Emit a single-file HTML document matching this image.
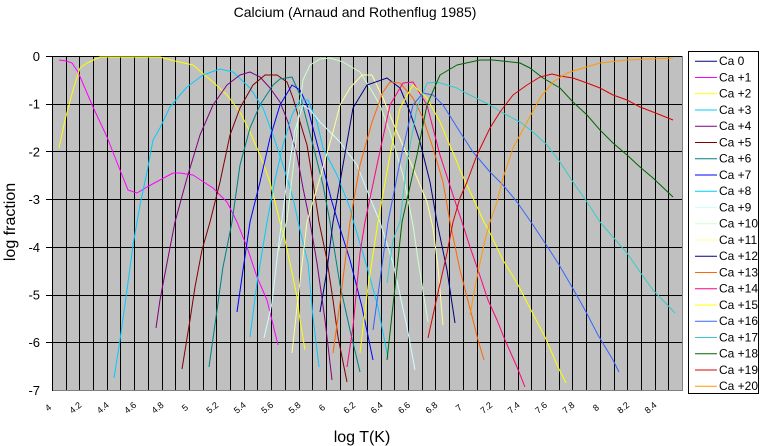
<!DOCTYPE html>
<html><head><meta charset="utf-8"><style>
html,body{margin:0;padding:0;background:#fff;}
svg{display:block;font-family:"Liberation Sans",sans-serif;}
</style></head><body>
<svg id="s" width="760" height="446" viewBox="0 0 760 446" xmlns="http://www.w3.org/2000/svg">
<rect x="0" y="0" width="760" height="446" fill="#fff"/>
<text x="355" y="17" font-size="14" text-anchor="middle">Calcium  (Arnaud and Rothenflug 1985)</text>
<rect x="52" y="56" width="630" height="334" fill="#c0c0c0"/>
<g id="grid" stroke="#000" stroke-width="1"></g>
<line x1="682.5" y1="56" x2="682.5" y2="390.5" stroke="#808080"/>
<line x1="52" y1="390.5" x2="683" y2="390.5" stroke="#808080"/>
<line x1="52.5" y1="56" x2="52.5" y2="391" stroke="#000"/>
<g id="ylab" font-size="13" text-anchor="end"></g>
<g id="xlab" font-size="9"></g>
<text transform="translate(15,222) rotate(-90)" font-size="16" text-anchor="middle">log fraction</text>
<text x="362" y="442" font-size="16" text-anchor="middle">log T(K)</text>
<g fill="none" stroke-width="1" stroke-linejoin="round">
<polyline stroke="#ff00ff" points="59,60 66,61 72,63 78,72 93,107 107,137 120,170 128,190 137,193 147,187 160,180 173,173 180,173 193,175 213,188 227,202 237,222 247,247 257,277 267,300 278,345"/>
<polyline stroke="#ffff00" points="59,148 65,120 73,90 80,68 87,63 100,57 160,57 175,61 193,65 213,82 227,95 240,112 250,132 260,155 270,182 280,222 285,240 293,277 297,297 300,320 305,350"/>
<polyline stroke="#00ccff" points="114,378 120,340 127,290 133,245 140,205 147,172 153,140 160,128 170,107 180,95 187,87 203,75 220,69 233,72 250,88 263,108 273,135 283,165 293,198 300,230 308,263 313,317 319,367"/>
<polyline stroke="#800080" points="156,328 160,300 167,263 175,222 187,178 200,135 213,105 227,85 240,75 250,72 260,77 270,88 280,102 288,122 297,155 303,188 310,222 317,263 325,320 332,380"/>
<polyline stroke="#800000" points="182,369 190,320 195,287 202,250 210,222 220,182 230,135 240,108 253,85 265,75 277,75 287,82 293,98 300,122 307,145 313,182 319,222 327,260 333,300 338,337 347,382"/>
<polyline stroke="#008080" points="209,367 217,310 223,267 232,222 240,165 250,128 260,105 273,85 280,79 292,77 300,95 307,122 313,145 323,185 330,222 340,285 350,330 360,372"/>
<polyline stroke="#0000ff" points="237,312 243,270 250,222 260,182 270,138 280,105 292,85 300,90 307,105 320,155 332,202 338,222 350,260 362,307 373,360"/>
<polyline stroke="#00ccff" points="250,337 257,283 267,222 275,180 283,145 292,115 300,100 308,100 317,122 323,148 337,175 350,208 353,220 367,267 378,307 388,358"/>
<polyline stroke="#ccffff" points="264,338 272,303 278,250 287,180 295,130 303,105 310,110 320,122 340,142 357,165 370,198 380,222 393,263 407,327 415,370"/>
<polyline stroke="#ccffcc" points="278,252 287,220 293,170 298,120 303,80 310,65 320,59 330,58 343,62 360,72 370,88 380,105 390,132 403,175 413,225 418,260 428,322"/>
<polyline stroke="#ffff99" points="292,353 297,307 307,222 320,178 333,132 340,105 350,88 362,75 372,75 383,98 397,132 413,168 427,202 433,228 438,267 443,325"/>
<polyline stroke="#000080" points="320,312 327,270 333,222 343,165 353,108 367,85 387,78 400,88 410,112 420,142 430,182 437,222 447,270 455,323"/>
<polyline stroke="#ff6600" points="333,353 340,303 350,222 360,165 372,122 383,92 390,82 400,83 413,98 423,118 433,148 443,182 450,222 460,270 467,297 473,320 478,340 484,360"/>
<polyline stroke="#ff0080" points="347,367 353,327 360,253 365,222 377,165 390,105 403,83 413,82 427,105 440,155 453,195 462,222 470,247 478,270 488,300 497,320 505,340 517,367 525,387"/>
<polyline stroke="#ffff00" points="360,353 368,287 378,222 390,155 400,108 413,85 427,98 440,122 457,162 460,170 473,198 484,222 490,233 503,260 517,283 532,312 545,337 558,367 566,383"/>
<polyline stroke="#3366ff" points="373,330 380,280 388,222 400,162 413,105 423,93 433,95 443,105 460,132 473,152 490,172 503,185 517,202 531,222 545,243 558,263 572,287 585,310 598,335 613,360 619,372"/>
<polyline stroke="#33cccc" points="387,283 393,240 400,222 407,162 417,108 427,83 437,82 457,88 460,90 490,105 503,113 520,122 533,132 547,145 560,162 573,182 587,202 600,222 613,237 627,253 640,272 653,290 675,313"/>
<polyline stroke="#006600" points="387,360 395,287 402,222 417,155 427,105 440,75 457,65 480,60 493,60 520,63 530,68 543,78 560,88 573,102 587,115 600,130 613,143 627,155 640,167 653,178 673,197"/>
<polyline stroke="#dd0000" points="428,338 437,297 447,253 453,222 460,198 467,182 477,155 490,128 500,112 513,95 527,85 540,77 552,74 560,76 573,78 587,83 600,88 613,95 627,100 640,107 653,112 673,120"/>
<polyline stroke="#ff9900" points="470,315 475,287 480,263 485,240 490,222 497,202 503,178 513,148 527,122 540,98 553,82 567,73 583,68 600,63 627,60 673,58"/>
</g>
<rect x="688.5" y="51.5" width="70" height="342" fill="#fff" stroke="#000"/>
<g id="leg" font-size="12"></g>
</svg>
<script>
var NS="http://www.w3.org/2000/svg";
function el(p,t,a,txt){var e=document.createElementNS(NS,t);for(var k in a)e.setAttribute(k,a[k]);if(txt!=null)e.textContent=txt;p.appendChild(e);return e;}
var g=document.getElementById('grid');
for(var k=1;k<46;k++){var x=Math.round(52+13.696*k)+0.5;el(g,'line',{x1:x,y1:56,x2:x,y2:390});}
for(var i=0;i<=7;i++){var y=Math.round(56+47.7*i)+0.5;el(g,'line',{x1:i==7?52:46,y1:y,x2:i==7?60:682,y2:y});}
var yl=document.getElementById('ylab');
for(var i=0;i<=7;i++){el(yl,'text',{x:40,y:56+47.7*i+5},i==0?'0':'-'+i);}
var xl=document.getElementById('xlab');
var labs=['4','4.2','4.4','4.6','4.8','5','5.2','5.4','5.6','5.8','6','6.2','6.4','6.6','6.8','7','7.2','7.4','7.6','7.8','8','8.2','8.4'];
for(var i=0;i<labs.length;i++){var x=52+27.39*i;el(xl,'text',{transform:'translate('+(x-2)+',410) rotate(-40)','text-anchor':'middle'},labs[i]);}
var cols=['#000080','#ff00ff','#ffff00','#00ccff','#800080','#800000','#008080','#0000ff','#00ccff','#ccffff','#ccffcc','#ffff99','#000080','#ff6600','#ff0080','#ffff00','#3366ff','#33cccc','#006600','#dd0000','#ff9900'];
var lg=document.getElementById('leg');
for(var i=0;i<=20;i++){var y=60.7+16.25*i;el(lg,'line',{x1:695,y1:y+0.5,x2:717,y2:y+0.5,stroke:cols[i],'stroke-width':1});el(lg,'text',{x:719,y:y+4.5},i==0?'Ca  0':'Ca +'+i);}
</script>
</body></html>
